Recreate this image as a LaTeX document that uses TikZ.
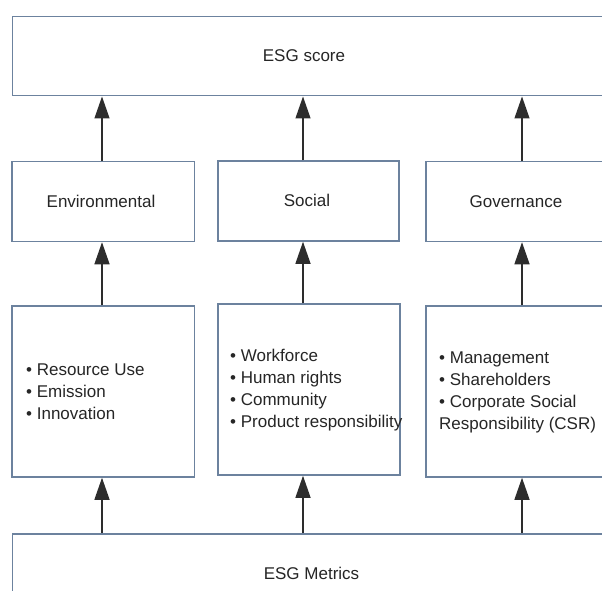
\documentclass[tikz,border=0pt]{standalone}
\usepackage{fontspec}
\setmainfont{Liberation Sans}
\usetikzlibrary{arrows.meta}
\definecolor{boxline}{RGB}{108,130,158}
\definecolor{arrline}{RGB}{45,45,45}
\begin{document}
\begin{tikzpicture}[x=1pt,y=-1pt,>={Triangle[width=15pt,length=22pt]},
    box/.style={draw=boxline,line width=1.5pt,fill=white,inner sep=0pt},
    txt/.style={text=black!85,font=\fontsize{17}{22}\selectfont,inner sep=0pt},
    arr/.style={->,draw=arrline,line width=1.3pt},]
        \useasboundingbox (0,0) rectangle (602,591);
        \clip (0,0) rectangle (602,591);
        \node[box,anchor=north west,minimum width=620,minimum height=79] (T) at (11.5,16) {};
        \node[txt] (Tt) at (304,56) {ESG score};
        \node[box,minimum width=182.5,minimum height=80] (E) at (103,201.5) {};
        \node[txt] (Et) at (101,201.5) {Environmental};
        \node[box,minimum width=181,minimum height=80] (S) at (308.5,201) {};
        \node[txt] (St) at (307,200) {Social};
        \node[box,minimum width=182,minimum height=80] (G) at (517,201.5) {};
        \node[txt] (Gt) at (516,201.5) {Governance};
        \node[box,minimum width=182.5,minimum height=171] (E2) at (103,391.5) {};
        \node[txt,anchor=west,align=left] (E2t) at (26,392)
            {\textbullet\ Resource Use\\\textbullet\ Emission\\\textbullet\ Innovation};
        \node[box,minimum width=182,minimum height=171] (S2) at (309,389.5) {};
        \node[txt,anchor=west,align=left] (S2t) at (230,390)
            {\textbullet\ Workforce\\\textbullet\ Human rights\\\textbullet\ Community\\\textbullet\ Product responsibility};
        \node[box,minimum width=182,minimum height=171] (G2) at (517,391.5) {};
        \node[txt,anchor=west,align=left] (G2t) at (439,392)
            {\textbullet\ Management\\\textbullet\ Shareholders\\\textbullet\ Corporate Social\\Responsibility (CSR)};
        \node[box,anchor=north west,minimum width=620,minimum height=80] (M) at (11.5,533) {};
        \node[txt] (Mt) at (311.5,573) {ESG Metrics};
        \draw[arr] ([xshift=-1]E.north) -- ([xshift=-1]E.north |- T.south);
        \draw[arr] ([xshift=-5.5]S.north) -- ([xshift=-5.5]S.north |- T.south);
        \draw[arr] ([xshift=5]G.north) -- ([xshift=5]G.north |- T.south);
        \draw[arr] ([xshift=-1]E2.north) -- ([xshift=-1]E.south);
        \draw[arr] ([xshift=-6]S2.north) -- ([xshift=-5.5]S.south);
        \draw[arr] ([xshift=5]G2.north) -- ([xshift=5]G.south);
        \draw[arr] ([xshift=-1]E2.south |- M.north) -- ([xshift=-1]E2.south);
        \draw[arr] ([xshift=-6]S2.south |- M.north) -- ([xshift=-6]S2.south);
        \draw[arr] ([xshift=5]G2.south |- M.north) -- ([xshift=5]G2.south);
\end{tikzpicture}
\end{document}
